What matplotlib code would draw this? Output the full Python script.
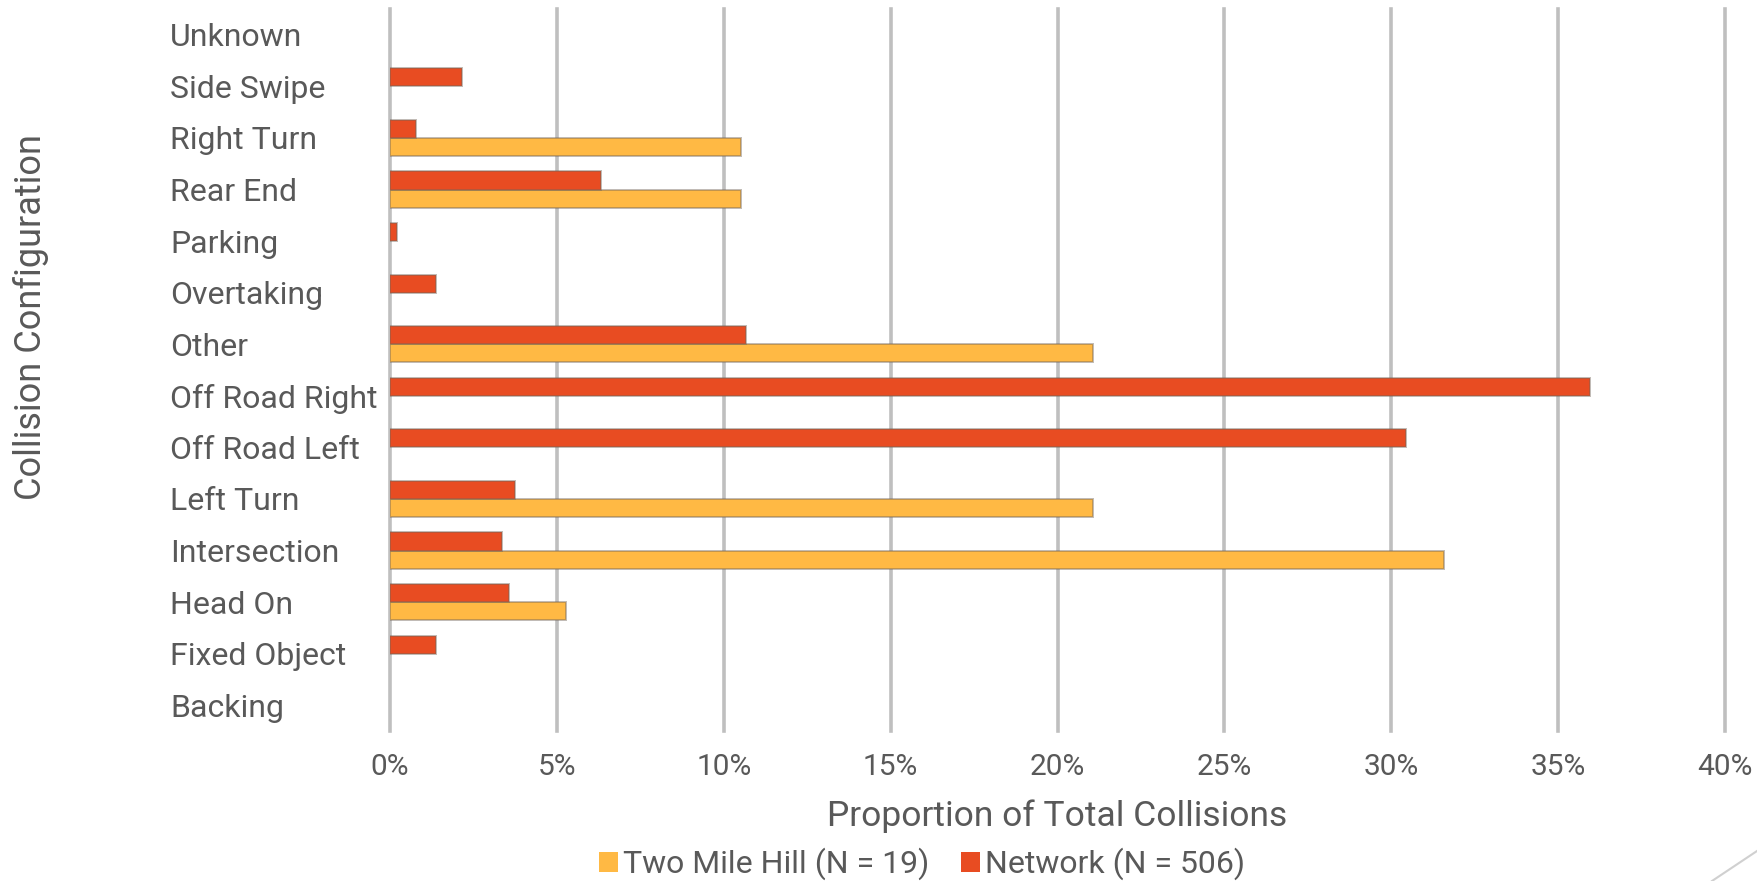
import matplotlib
matplotlib.use("Agg")
import matplotlib.pyplot as plt
import matplotlib.transforms as mtransforms
from matplotlib.lines import Line2D
import numpy as np

plt.rcParams['font.family'] = ['Roboto', 'DejaVu Sans']

# collision configurations, bottom to top
categories = ["Backing", "Fixed Object", "Head On", "Intersection", "Left Turn",
              "Off Road Left", "Off Road Right", "Other", "Overtaking", "Parking",
              "Rear End", "Right Turn", "Side Swipe", "Unknown"]

# share of total collisions, percent
two_mile_hill = [0, 0, 5.26, 31.58, 21.05, 0, 0, 21.05, 0, 0, 10.53, 10.53, 0, 0]
network = [0, 1.38, 3.56, 3.36, 3.75, 30.43, 35.97, 10.67, 1.38, 0.20, 6.32, 0.79, 2.17, 0]

x_ticks = [0, 5, 10, 15, 20, 25, 30, 35, 40]
x_tick_labels = [f"{t}%" for t in x_ticks]

yellow = "#FFB944"
red = "#E84C22"
grey_text = "#595959"

fig = plt.figure(figsize=(17.57, 8.81), dpi=100)
ax = fig.add_axes([390 / 1757, 1 - 731 / 881, (1725 - 390) / 1757, (731 - 9) / 881])

y = np.arange(len(categories))
h = 0.35
edge = (0.45, 0.40, 0.35, 0.45)
ax.barh(y - h / 2, two_mile_hill, height=h, color=yellow, edgecolor=edge,
        linewidth=[1.4 if v > 0 else 0 for v in two_mile_hill], zorder=3,
        label="Two Mile Hill (N = 19)")
ax.barh(y + h / 2, network, height=h, color=red, edgecolor=edge,
        linewidth=[1.4 if v > 0 else 0 for v in network], zorder=3,
        label="Network (N = 506)")

ax.set_xlim(0, 40)
ax.set_ylim(-0.5, len(categories) - 0.5)
ax.set_xticks(x_ticks)
ax.set_xticklabels(x_tick_labels, fontsize=21.5, color=grey_text)
ax.set_yticks([])
ax.tick_params(axis="x", length=0, pad=16)
ax.grid(axis="x", color="#bfbfbf", linewidth=2.6, zorder=0)
for gl in ax.get_xgridlines():
    gl.set_clip_on(False)
for s in ax.spines.values():
    s.set_visible(False)

# category names, left aligned
trans = mtransforms.blended_transform_factory(fig.transFigure, ax.transData)
for yi, name in zip(y, categories):
    ax.text(170 / 1757, yi, name, transform=trans, ha="left", va="center_baseline",
            fontsize=23, color=grey_text)

ax.set_xlabel("Proportion of Total Collisions", fontsize=25.5, color=grey_text, va="center")
ax.xaxis.set_label_coords(0.5, -(816 - 731) / 722)
fig.text(31 / 1757, 1 - 317 / 881, "Collision Configuration", rotation=90,
         ha="center", va="center", fontsize=26, color=grey_text)

fig.legend(loc="center", bbox_to_anchor=(922 / 1757, 1 - 864 / 881), ncol=2,
           frameon=False, fontsize=23, labelcolor=grey_text, handlelength=0.6,
           handleheight=0.6, handletextpad=0.15, columnspacing=1.0, borderpad=0)

# corner accent line
fig.add_artist(Line2D([1757 / 1757, 1712 / 1757], [1 - 851 / 881, 1 - 881 / 881],
                      transform=fig.transFigure, color="#d0d0d0", linewidth=1.5))

fig.savefig("out.png", dpi=100)
